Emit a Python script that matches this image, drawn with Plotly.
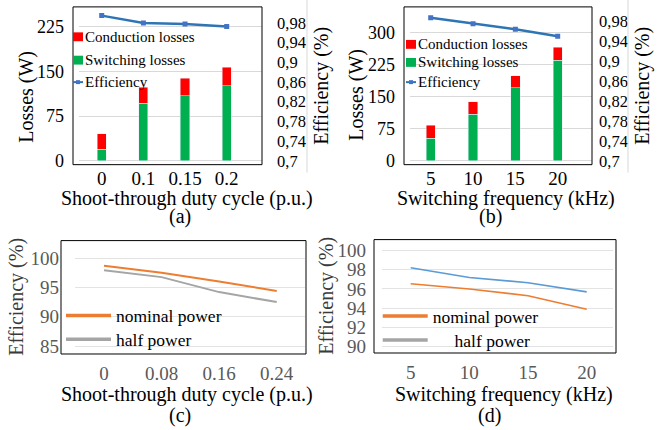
import plotly.graph_objects as go

W, H = 666, 430
FONT = "Liberation Serif, Times New Roman, serif"

# ---------------- data ----------------
duty_a = ["0", "0.1", "0.15", "0.2"]
sw_a = [19, 96, 109, 126]
cond_a = [26, 27, 29, 31]
eff_a = [0.995, 0.980, 0.978, 0.973]

freq_b = ["5", "10", "15", "20"]
sw_b = [53, 109, 171, 236]
cond_b = [30, 29, 28, 30]
eff_b = [0.987, 0.975, 0.964, 0.950]

duty_c = ["0", "0.08", "0.16", "0.24"]
nominal_c = [98.7, 97.5, 96.0, 94.4]
half_c = [97.9, 96.75, 94.2, 92.5]

freq_d = ["5", "10", "15", "20"]
half_d = [98.2, 97.2, 96.65, 95.7]
nominal_d = [96.55, 96.0, 95.3, 93.9]

loss_ticks_a = [0, 75, 150, 225]
loss_ticks_b = [0, 75, 150, 225, 300]
eff_tickvals = [0.70, 0.74, 0.78, 0.82, 0.86, 0.90, 0.94, 0.98]
eff_ticktext = ["0,7", "0,74", "0,78", "0,82", "0,86", "0,9", "0,94", "0,98"]
eff_ticks_c = [85, 90, 95, 100]
eff_ticks_d = [90, 92, 94, 96, 98, 100]

RED = "#FF0000"
GREEN = "#00B050"
BLUE = "#2E75B6"
BLUE_M = "#4472C4"
ORANGE = "#ED7D31"
GRAY = "#A5A5A5"
LBLUE = "#5B9BD5"


def px(x):
    return x / W


def py(y):
    return 1 - y / H


fig = go.Figure()

# ---- (a) ----
fig.add_trace(go.Bar(x=duty_a, y=sw_a, name="Switching losses", marker_color=GREEN,
                     width=0.22, xaxis="x", yaxis="y", showlegend=False))
fig.add_trace(go.Bar(x=duty_a, y=cond_a, name="Conduction losses", marker_color=RED,
                     width=0.22, xaxis="x", yaxis="y", showlegend=False))
fig.add_trace(go.Scatter(x=duty_a, y=eff_a, name="Efficiency", mode="lines+markers",
                         line=dict(color=BLUE, width=2.5),
                         marker=dict(symbol="square", size=5, color=BLUE_M),
                         xaxis="x", yaxis="y2", showlegend=False))

# ---- (b) ----
fig.add_trace(go.Bar(x=freq_b, y=sw_b, name="Switching losses", marker_color=GREEN,
                     width=0.22, xaxis="x2", yaxis="y3", showlegend=False))
fig.add_trace(go.Bar(x=freq_b, y=cond_b, name="Conduction losses", marker_color=RED,
                     width=0.22, xaxis="x2", yaxis="y3", showlegend=False))
fig.add_trace(go.Scatter(x=freq_b, y=eff_b, name="Efficiency", mode="lines+markers",
                         line=dict(color=BLUE, width=2.5),
                         marker=dict(symbol="square", size=5, color=BLUE_M),
                         xaxis="x2", yaxis="y4", showlegend=False))

# ---- (c) ----
fig.add_trace(go.Scatter(x=duty_c, y=nominal_c, mode="lines", line=dict(color=ORANGE, width=2),
                         xaxis="x3", yaxis="y5", showlegend=False))
fig.add_trace(go.Scatter(x=duty_c, y=half_c, mode="lines", line=dict(color=GRAY, width=2),
                         xaxis="x3", yaxis="y5", showlegend=False))
fig.add_trace(go.Scatter(x=[None], y=[None], mode="lines", name="nominal power",
                         line=dict(color=ORANGE, width=3.5), xaxis="x3", yaxis="y5",
                         legend="legend"))
fig.add_trace(go.Scatter(x=[None], y=[None], mode="lines", name="half power",
                         line=dict(color=GRAY, width=3.5), xaxis="x3", yaxis="y5",
                         legend="legend2"))

# ---- (d) ----
fig.add_trace(go.Scatter(x=freq_d, y=half_d, mode="lines", line=dict(color=LBLUE, width=1.6),
                         xaxis="x4", yaxis="y6", showlegend=False))
fig.add_trace(go.Scatter(x=freq_d, y=nominal_d, mode="lines", line=dict(color=ORANGE, width=1.6),
                         xaxis="x4", yaxis="y6", showlegend=False))
fig.add_trace(go.Scatter(x=[None], y=[None], mode="lines", name="nominal power",
                         line=dict(color=ORANGE, width=3.5), xaxis="x4", yaxis="y6",
                         legend="legend3"))
fig.add_trace(go.Scatter(x=[None], y=[None], mode="lines",
                         name="\u00a0\u00a0\u00a0\u00a0\u00a0half power",
                         line=dict(color=GRAY, width=3.5), xaxis="x4", yaxis="y6",
                         legend="legend4"))

noline = dict(showline=False, zeroline=False)


def xax(dom, anchor, rng, size, color="black", standoff=6):
    return dict(domain=[px(dom[0]), px(dom[1])], anchor=anchor, type="category",
                range=rng, showgrid=False, ticks="", ticklabelstandoff=standoff,
                tickfont=dict(family=FONT, size=size, color=color), **noline)


def yax(dom, anchor, rng, tickvals, size, color="black", grid="#D9D9D9", standoff=8):
    return dict(domain=[py(dom[1]), py(dom[0])], anchor=anchor, range=rng,
                tickvals=tickvals, showgrid=True, gridcolor=grid, gridwidth=1,
                ticks="", ticklabelstandoff=standoff,
                tickfont=dict(family=FONT, size=size, color=color), **noline)


def yright(over, anchor, rng, standoff):
    return dict(overlaying=over, side="right", anchor=anchor, range=rng,
                tickvals=eff_tickvals, ticktext=eff_ticktext, showgrid=False,
                ticks="", ticklabelstandoff=standoff,
                tickfont=dict(family=FONT, size=16.5, color="black"), **noline)


def leg(text_x, cy, size=17.5, iw=45):
    return dict(x=px(text_x - iw - 10), xanchor="left", y=py(cy), yanchor="middle",
                bgcolor="rgba(0,0,0,0)", borderwidth=0, itemwidth=iw,
                font=dict(family=FONT, size=size, color="black"), tracegroupgap=0)


def ann(text, x, y, size=20, angle=0, color="black", xanchor="center"):
    return dict(text=text, x=px(x), y=py(y), xref="paper", yref="paper",
                showarrow=False, textangle=angle, xanchor=xanchor, yanchor="middle",
                font=dict(family=FONT, size=size, color=color))


def frame(xn, yn, dom_x, box_x):
    # plot-area border, slightly wider than the gridded domain (as in the original)
    w = dom_x[1] - dom_x[0]
    return dict(type="rect", xref=f"{xn} domain", yref=f"{yn} domain",
                x0=(box_x[0] - dom_x[0]) / w, x1=(box_x[1] - dom_x[0]) / w,
                y0=0, y1=1, line=dict(color="black", width=1),
                fillcolor="rgba(0,0,0,0)")


# key entries of the bar panels: (label, colour, kind, left px, centre px)
key_entries = [
    ("Conduction losses", RED, "box", 73, 37.3),
    ("Switching losses", GREEN, "box", 73, 61),
    ("Efficiency", BLUE, "line", 73, 83.3),
    ("Conduction losses", RED, "box", 406, 45),
    ("Switching losses", GREEN, "box", 406, 63.3),
    ("Efficiency", BLUE, "line", 406, 83.3),
]
key_shapes, key_texts = [], []
for label, col, kind, x0, cy in key_entries:
    if kind == "box":
        key_shapes.append(dict(type="rect", xref="paper", yref="paper",
                               x0=px(x0), x1=px(x0 + 10), y0=py(cy + 4.5), y1=py(cy - 4.5),
                               fillcolor=col, line=dict(width=0)))
    else:
        key_shapes.append(dict(type="line", xref="paper", yref="paper",
                               x0=px(x0), x1=px(x0 + 10), y0=py(cy), y1=py(cy),
                               line=dict(color=col, width=2)))
        key_shapes.append(dict(type="rect", xref="paper", yref="paper",
                               x0=px(x0 + 3), x1=px(x0 + 7), y0=py(cy + 2), y1=py(cy - 2),
                               fillcolor=BLUE_M, line=dict(width=0)))
    key_texts.append(ann(label, x0 + 10, cy, size=15, xanchor="left"))

DOM_A, BOX_A = (79, 262), (73, 262)
DOM_B, BOX_B = (410, 592), (404, 592)
DOM_C, BOX_C = (75, 305), (61, 306)
DOM_D, BOX_D = (382, 613), (374, 616)

fig.update_layout(
    width=W, height=H, margin=dict(l=0, r=0, t=0, b=0, pad=0),
    paper_bgcolor="white", plot_bgcolor="white", barmode="stack",
    font=dict(family=FONT),
    xaxis=xax(DOM_A, "y", [-0.545, 3.847], 19, standoff=0),
    yaxis=yax((7, 167), "x", [-6.6, 258], loss_ticks_a, 18, standoff=14),
    yaxis2=yright("y", "x", [0.692, 1.0127], 14),
    xaxis2=xax(DOM_B, "y3", [-0.489, 3.81], 19, standoff=0),
    yaxis3=yax((7, 167), "x2", [-9.25, 361], loss_ticks_b, 18, standoff=14),
    yaxis4=yright("y3", "x2", [0.6921, 1.009], 6),
    xaxis3=xax(DOM_C, "y5", [-0.5037, 3.4914], 19, color="#595959", standoff=6),
    yaxis5=yax((244, 359), "x3", [83.66, 102.97], eff_ticks_c, 19, color="#595959",
               grid="#E3E3E3", standoff=15),
    xaxis4=xax(DOM_D, "y6", [-0.489, 3.448], 19, color="#595959", standoff=6),
    yaxis6=yax((243, 358), "x4", [89.355, 101.126], eff_ticks_d, 19, color="#595959",
               grid="#E3E3E3", standoff=15),
    legend=leg(116, 320),
    legend2=leg(116, 344.3),
    legend3=leg(432.7, 320.7),
    legend4=leg(432.7, 345),
    showlegend=True,
    annotations=[
        ann("Losses (W)", 27, 98, angle=-90),
        ann("Efficiency (%)", 322, 87, angle=-90),
        ann("Shoot-through duty cycle (p.u.)", 187, 201),
        ann("(a)", 180, 220),
        ann("Losses (W)", 357, 96, angle=-90),
        ann("Efficiency (%)", 643, 87, angle=-90),
        ann("Switching frequency (kHz)", 505.5, 201),
        ann("(b)", 490, 220),
        ann("Efficiency (%)", 17, 301, angle=-90, color="#3A3A3A"),
        ann("Shoot-through duty cycle (p.u.)", 186.7, 400),
        ann("(c)", 180, 421),
        ann("Efficiency (%)", 327, 300, angle=-90, color="#3A3A3A"),
        ann("Switching frequency (kHz)", 503.8, 400),
        ann("(d)", 489, 421),
    ] + key_texts,
    shapes=[
        frame("x", "y", DOM_A, BOX_A),
        frame("x2", "y3", DOM_B, BOX_B),
        frame("x3", "y5", DOM_C, BOX_C),
        frame("x4", "y6", DOM_D, BOX_D),
        dict(type="line", xref="paper", yref="paper", x0=px(307), x1=px(307),
             y0=py(0), y1=py(175), line=dict(color="#D9D9D9", width=1)),
        dict(type="line", xref="paper", yref="paper", x0=px(628), x1=px(628),
             y0=py(0), y1=py(175), line=dict(color="#D9D9D9", width=1)),
    ] + key_shapes,
)

fig.write_html("out.html")
